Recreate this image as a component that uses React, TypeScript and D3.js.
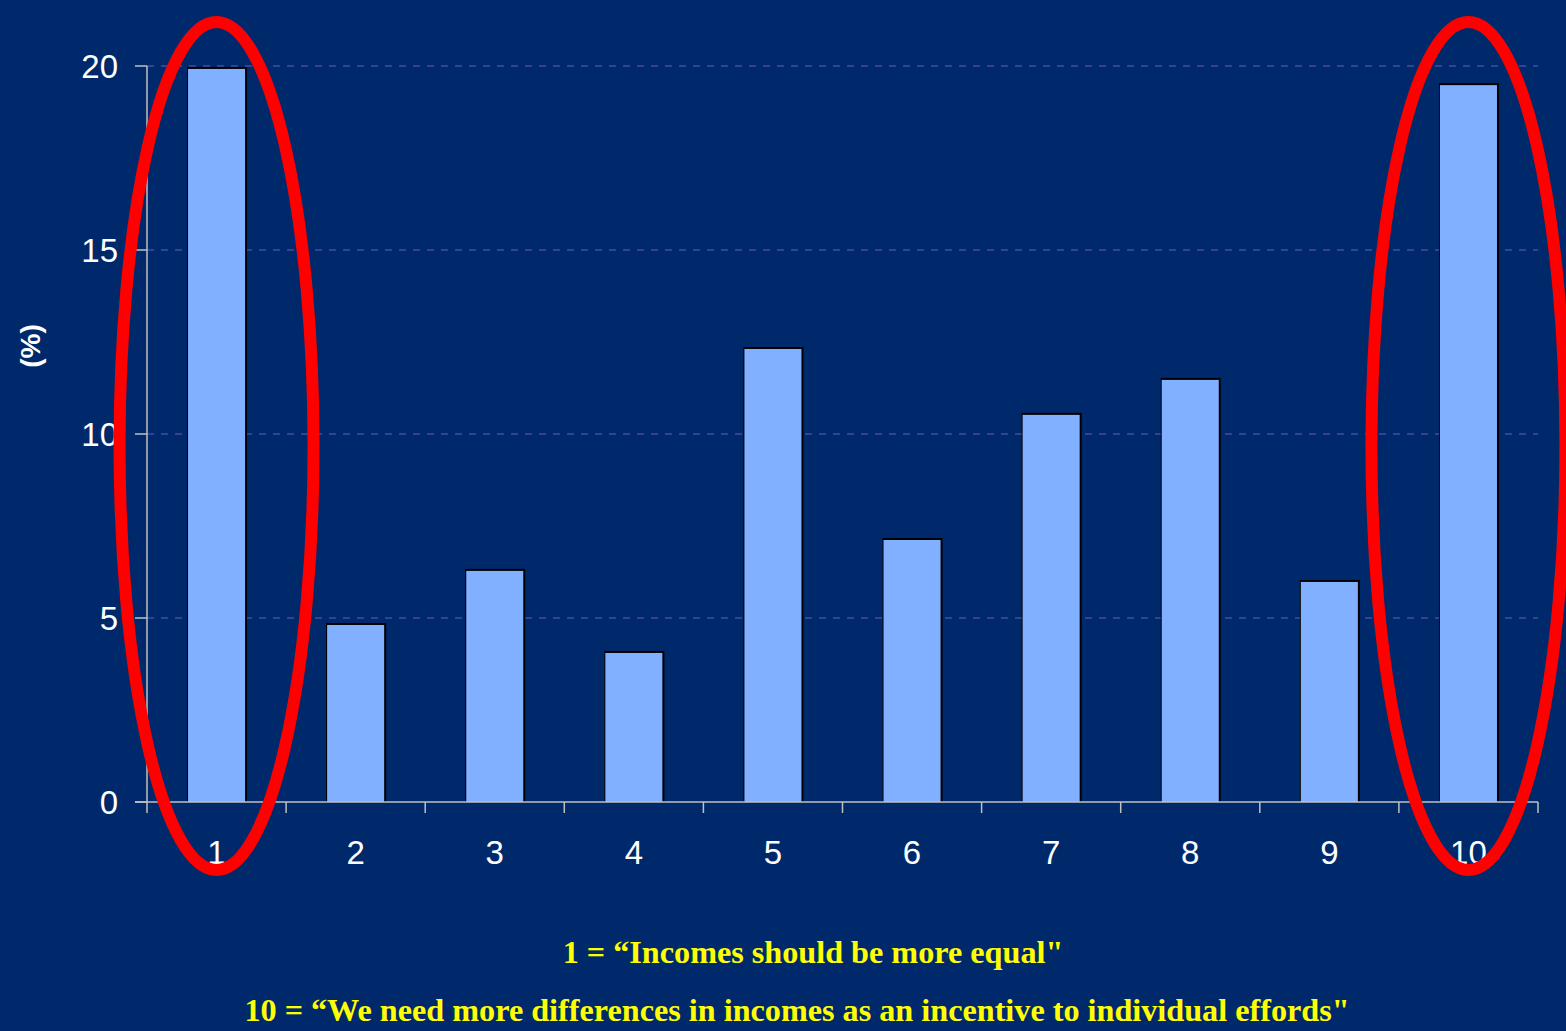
import React from "react";
import * as d3 from "d3";

const categories = ["1", "2", "3", "4", "5", "6", "7", "8", "9", "10"];
const values = [19.92, 4.81, 6.28, 4.05, 12.31, 7.12, 10.52, 11.47, 5.98, 19.48];
const yTicks = [0, 5, 10, 15, 20];
const highlighted = ["1", "10"];
const yAxisTitle = "(%)";
const notes = [
  "1 = \u201cIncomes should be more equal\"",
  "10 = \u201cWe need more differences in incomes as an incentive to individual effords\"",
];

const W = 1566;
const H = 1031;
const left = 147;
const right = 1538;
const top = 66;
const bottom = 802;

export default function App() {
  const x = d3.scaleBand<string>().domain(categories).range([left, right]).padding(0);
  const y = d3.scaleLinear().domain([0, 20]).range([bottom, top]);
  const bw = x.bandwidth() * 0.41;
  const boundaries = categories.map((c) => x(c)!).concat([right]);
  const noteX = [813, 797];

  return (
    <svg
      width={W}
      height={H}
      style={{ position: "absolute", left: 0, top: 0, display: "block" }}
    >
      <rect x={0} y={0} width={W} height={H} fill="#00296B" />
      {/* grid */}
      {yTicks.filter((t) => t > 0).map((t) => (
        <line
          key={"g" + t}
          x1={left}
          x2={right}
          y1={y(t)}
          y2={y(t)}
          stroke="#6A5BC0"
          strokeWidth={1.2}
          strokeDasharray="7,7"
        />
      ))}
      {/* bars */}
      {categories.map((c, i) => {
        const cx = x(c)! + x.bandwidth() / 2;
        const bx = cx - bw / 2;
        const by = y(values[i]);
        return (
          <g key={"b" + c}>
            <rect x={bx - 1} y={by - 2} width={bw + 3} height={bottom - by + 2} fill="#000000" />
            <rect x={bx} y={by} width={bw} height={bottom - by} fill="#80B0FF" />
          </g>
        );
      })}
      {/* y axis */}
      <line x1={left} x2={left} y1={top} y2={bottom} stroke="#C0C0C0" strokeWidth={1.5} />
      {yTicks.map((t) => (
        <g key={"yt" + t}>
          <line x1={left - 12} x2={left} y1={y(t)} y2={y(t)} stroke="#C0C0C0" strokeWidth={1.5} />
          <text
            x={118}
            y={y(t)}
            dy="0.36em"
            textAnchor="end"
            fill="#FFFFFF"
            fontFamily="Liberation Sans, Arial, sans-serif"
            fontSize={33}
          >
            {t}
          </text>
        </g>
      ))}
      <text
        transform={`translate(40,346) rotate(-90)`}
        textAnchor="middle"
        fill="#FFFFFF"
        fontFamily="Liberation Sans, Arial, sans-serif"
        fontWeight="bold"
        fontSize={28}
      >
        {yAxisTitle}
      </text>
      {/* x axis */}
      <line x1={left - 12} x2={right} y1={bottom} y2={bottom} stroke="#C0C0C0" strokeWidth={1.5} />
      {boundaries.map((bx, i) => (
        <line key={"xt" + i} x1={bx} x2={bx} y1={bottom} y2={bottom + 11} stroke="#C0C0C0" strokeWidth={1.5} />
      ))}
      {categories.map((c) => (
        <text
          key={"xl" + c}
          x={x(c)! + x.bandwidth() / 2}
          y={864}
          textAnchor="middle"
          fill="#FFFFFF"
          fontFamily="Liberation Sans, Arial, sans-serif"
          fontSize={33}
        >
          {c}
        </text>
      ))}
      {/* highlight ellipses */}
      {highlighted.map((c) => {
        const cx = x(c)! + x.bandwidth() / 2;
        return (
          <ellipse
            key={"e" + c}
            cx={cx}
            cy={446}
            rx={97}
            ry={424}
            fill="none"
            stroke="#FF0000"
            strokeWidth={12}
          />
        );
      })}
      {/* notes */}
      {notes.map((n, i) => (
        <text
          key={"n" + i}
          x={noteX[i]}
          y={963 + i * 58}
          textAnchor="middle"
          fill="#FFFF00"
          fontFamily="Liberation Serif, 'Times New Roman', serif"
          fontWeight="bold"
          fontSize={32.2}
        >
          {n}
        </text>
      ))}
    </svg>
  );
}
